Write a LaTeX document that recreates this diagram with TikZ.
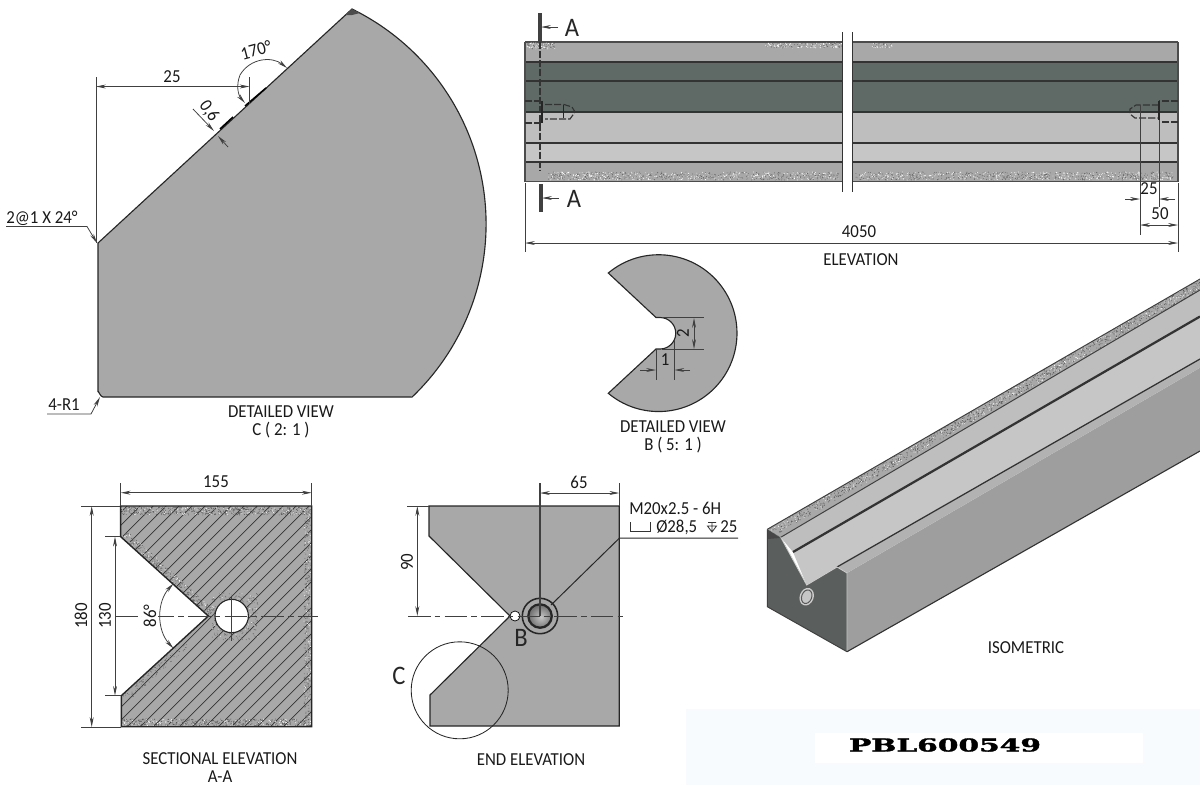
\documentclass[tikz,border=0pt]{standalone}
\usepackage{fontspec}
\setmainfont[FakeStretch=0.92]{Carlito}
\newfontfamily\plaquefont[BoldFeatures={FakeBold=1.5}]{DejaVu Serif}
\usetikzlibrary{arrows.meta, calc}

\definecolor{steel}{HTML}{A8A8A8}
\definecolor{steeldark}{HTML}{5F6A67}
\definecolor{steellight}{HTML}{BEBEBE}
\definecolor{steelpale}{HTML}{C6C6C6}
\definecolor{steelface}{HTML}{9E9E9E}
\definecolor{steelend}{HTML}{5A5F5E}
\definecolor{plaque}{HTML}{F7FBFD}

\tikzset{
  >={Stealth[length=7pt,width=2.8pt]},
  outline/.style={draw=black!85,line width=0.8pt},
  dimline/.style={draw=black!75,line width=0.55pt},
  extline/.style={draw=black!75,line width=0.55pt},
  bandline/.style={draw=black!80,line width=1.4pt},
  hidline/.style={draw=black!80,line width=0.8pt,dash pattern=on 5pt off 1.5pt},
  cenline/.style={draw=black!75,line width=0.55pt,dash pattern=on 16pt off 3pt on 4pt off 3pt},
  cutline/.style={draw=black!75,line width=2.6pt},
  dimtext/.style={font=\fontsize{13}{15}\selectfont,text=black!90,inner sep=0pt},
  viewlabel/.style={font=\fontsize{13}{12.8}\selectfont,text=black!90,inner sep=0pt,align=center},
  refletter/.style={font=\fontsize{19}{21}\selectfont,text=black!85,inner sep=0pt},
}

% #1,#2 start  #3,#4 run  #5,#6 spread  #7 count  #8 colour
\newcommand{\speckle}[8]{%
  \fill[#8] \foreach \i [evaluate=\i as \tu using rnd, evaluate=\i as \tv using rnd] in {1,...,#7}
    {({#1+#3*\tu+#5*\tv},{#2+#4*\tu+#6*\tv}) circle (0.45)};
}

\begin{document}
\begin{tikzpicture}[x=0.025cm,y=-0.025cm]
  \useasboundingbox (0,0) rectangle (1200,785);
  \pgfmathsetseed{4242}

  % detailed view C
  \fill[steel] (98,243) -- (352,9) arc[start angle=-63.9,end angle=46.3,radius=239.4]
    -- (103,397) to[out=180,in=90] (98,392) -- cycle;
  \draw[outline] (98,392) -- (98,243) -- (352,9) arc[start angle=-63.9,end angle=46.3,radius=239.4]
    -- (103,397) to[out=180,in=90] (98,392);
  \fill[black!70] (345,15) -- (352,9) -- (360,13) -- (352,15) -- cycle;
  \draw[black,line width=1.1pt] (220,129) -- (233,117) (245,106) -- (266,88);
  \draw[extline] (96,77) -- (96,243);
  \draw[extline] (249.5,77) -- (249.5,104);
  \draw[dimline,<->] (96,86.5) -- (249.5,86.5);
  \node[dimtext] (dimcc) at (172,77) {25};
  \draw[dimline,<->] (287,68) .. controls (272,56) and (250,58) .. (240,75) .. controls (236,85) and (238,95) .. (245,103);
  \node[dimtext,rotate=15] (dimcb) at (256,50) {170°};
  \draw[dimline,->] (193,109) -- (214,131);
  \draw[dimline,->] (228,147) -- (218,136);
  \node[dimtext,rotate=-55] (dimca) at (209,111) {0,6};
  \node[dimtext] (chamfer) at (42,218) {2@1 X 24°};
  \draw[dimline,->] (6,226.5) -- (87,226.5) -- (97,243);
  \node[dimtext] (radius) at (64,405) {4-R1};
  \draw[dimline,->] (47,414) -- (91,414) -- (100,397);
  \node[viewlabel] (viewc) at (281,422) {DETAILED VIEW\\C ( 2: 1 )};

  % elevation, two pieces either side of the break
  \foreach \xa/\xb in {525/842,852/1178}{
    \fill[steel] (\xa,42) rectangle (\xb,62);
    \fill[steeldark] (\xa,62) rectangle (\xb,112);
    \fill[steellight] (\xa,112) rectangle (\xb,143);
    \fill[steelpale] (\xa,143) rectangle (\xb,162);
    \fill[steel] (\xa,162) rectangle (\xb,181);
    \foreach \yb in {62,81,112,143,162}
      \draw[bandline] (\xa,\yb) -- (\xb,\yb);
    \draw[black!70,line width=0.8pt] (\xa,42) -- (\xb,42) (\xa,181.5) -- (\xb,181.5);
  }
  \draw[black!70,line width=0.8pt] (525,42) -- (525,181.5) (1178,42) -- (1178,181.5);
  \speckle{527}{43}{28}{0}{0}{6}{70}{white}
  \speckle{527}{43}{28}{0}{0}{6}{50}{black!60}
  \speckle{765}{43}{77}{0}{0}{5}{90}{white}
  \speckle{765}{43}{77}{0}{0}{5}{70}{black!60}
  \speckle{872}{43}{20}{0}{0}{5}{30}{white}
  \speckle{872}{43}{20}{0}{0}{5}{25}{black!60}
  \speckle{548}{172}{292}{0}{0}{8}{380}{white}
  \speckle{548}{172}{292}{0}{0}{8}{420}{black!60}
  \speckle{855}{172}{318}{0}{0}{8}{400}{white}
  \speckle{855}{172}{318}{0}{0}{8}{450}{black!60}
  \draw[black!80,line width=0.7pt] (842,32) -- (842,192) (852,32) -- (852,192);
  % section marks
  \draw[cutline] (540,13) -- (540,42);
  \draw[hidline,line width=1.1pt] (540,42) -- (540,170);
  \draw[cutline] (541,184) -- (541,212);
  \draw[dimline,->] (558,27) -- (541,27);
  \draw[dimline,->] (559,198) -- (542,198);
  \node[refletter] (marka) at (572,28) {A};
  \node[refletter] (markb) at (574,199) {A};
  % hidden tapped holes
  \draw[hidline] (525,101) -- (542,101) (525,123) -- (541,123);
  \draw[black!85,line width=1pt] (542,101) -- (542,123);
  \draw[hidline] (545,104.5) -- (564,104.5) -- (572,107) -- (575,112) -- (570,119) -- (545,119);
  \draw[black!85,line width=0.7pt] (563,105) -- (563,118);
  \draw[hidline] (1178,101) -- (1159,101) (1178,122) -- (1159,122);
  \draw[hidline] (1159,105) -- (1136,105) -- (1130,109) -- (1130,114) -- (1135,118) -- (1159,118);
  \draw[extline] (1140,105) -- (1140,235) (1159,105) -- (1159,207);
  \draw[black!85,line width=0.9pt] (1159,101) -- (1159,120);
  % elevation dimensions
  \draw[dimline,->] (1125,199) -- (1140,199);
  \draw[dimline,->] (1175,199) -- (1159,199);
  \node[dimtext] (dimea) at (1149,189) {25};
  \draw[dimline,<->] (1140,225) -- (1178,225);
  \node[dimtext] (dimeb) at (1160,214) {50};
  \draw[extline] (525,183) -- (525,252) (1178,183) -- (1178,252);
  \draw[dimline,<->] (525,243) -- (1178,243);
  \node[dimtext] (dimec) at (859,232) {4050};
  \node[viewlabel] (viewe) at (861,260) {ELEVATION};

  % detailed view B
  \fill[steel] (608.3,273) arc[start angle=-129.9,end angle=129.9,radius=78.4]
    -- (656,349) -- (660,349) arc[start angle=90,end angle=-90,radius=15.75] -- (656,317.5) -- cycle;
  \draw[outline] (608.3,273) arc[start angle=-129.9,end angle=129.9,radius=78.4]
    -- (656,349) -- (660,349) arc[start angle=90,end angle=-90,radius=15.75] -- (656,317.5) -- cycle;
  \draw[extline] (662,317.5) -- (703.6,317.5) (662,349) -- (703.6,349);
  \draw[dimline,<->] (694,318) -- (694,349);
  \node[dimtext,rotate=90] (dimba) at (683,333) {2};
  \draw[extline] (656,349) -- (656,379.5) (674.4,340) -- (674.4,379.5);
  \draw[dimline,->] (640,370) -- (656,370);
  \draw[dimline,->] (690,370) -- (674.4,370);
  \node[dimtext] (dimbb) at (665,360) {1};
  \node[viewlabel] (viewb) at (673,437) {DETAILED VIEW\\B ( 5: 1 )};

  % sectional elevation
  \fill[steel] (120.7,506) -- (311.7,506) -- (311.7,726.7) -- (121.3,726.7) -- (121.3,695.7) -- (208.3,616) -- (120.7,536.7) -- cycle;
  \begin{scope}
    \clip (120.7,506) -- (311.7,506) -- (311.7,726.7) -- (121.3,726.7) -- (121.3,695.7) -- (208.3,616) -- (120.7,536.7) -- cycle;
    \foreach \hx in {-110,-97,...,312}
      \draw[black!80,line width=0.5pt] (\hx,730) -- ++(240,-240);
    \speckle{121}{507}{190}{0}{0}{8}{500}{black!65}
    \speckle{121}{507}{190}{0}{0}{8}{130}{white}
    \speckle{304}{507}{0}{219}{7}{0}{350}{black!60}
    \speckle{304}{507}{0}{219}{7}{0}{90}{white}
    \speckle{122}{719}{190}{0}{0}{7}{450}{black!65}
    \speckle{122}{719}{190}{0}{0}{7}{120}{white}
    \speckle{121}{537}{88}{80}{7}{-5}{320}{black!60}
    \speckle{121}{537}{88}{80}{7}{-5}{70}{white}
    \speckle{122}{696}{60}{-55}{7}{5}{120}{black!60}
    \speckle{212}{593}{46}{0}{0}{47}{260}{black!60}
    \speckle{212}{593}{46}{0}{0}{47}{60}{white}
  \end{scope}
  \fill[white] (231.7,616) circle (16.7);
  \draw[outline] (231.7,616) circle (16.7);
  \draw[outline,line width=1pt] (120.7,536.7) -- (120.7,506) -- (311.7,506) -- (311.7,726.7) -- (121.3,726.7) -- (121.3,695.7) -- (208.3,616) -- cycle;
  \draw[cenline] (115,616) -- (318,616);
  \draw[dimline] (231.7,597) -- (231.7,641);
  \draw[extline] (120.7,483) -- (120.7,506) (311.7,483) -- (311.7,506);
  \draw[dimline,<->] (120.7,492.7) -- (311.7,492.7);
  \node[dimtext] (dimsa) at (216,482) {155};
  \draw[extline] (81,506) -- (120,506) (81,727) -- (121,727);
  \draw[dimline,<->] (91.7,506) -- (91.7,727);
  \node[dimtext,rotate=90] (dimsb) at (81,616) {180};
  \draw[extline] (105,536.7) -- (120,536.7) (105,695.7) -- (121,695.7);
  \draw[dimline,<->] (115,536.7) -- (115,695.7);
  \node[dimtext,rotate=90] (dimsc) at (105,616) {130};
  \draw[dimline,<->] (173.5,583.5) arc[start angle=-137,end angle=-223,radius=47.6];
  \node[dimtext,rotate=90,fill=white,inner sep=1pt] (dimsd) at (150,616) {86°};
  \node[viewlabel] (views) at (220,768) {SECTIONAL ELEVATION\\A-A};

  % end elevation
  \fill[steel] (429,506) -- (619.3,506) -- (619.3,726) -- (430,726) -- (430,695) -- (510,616) -- (429,536) -- cycle;
  \draw[outline] (429,536) -- (429,506) -- (619.3,506) -- (619.3,726) -- (430,726) -- (430,695) -- (510,616) -- cycle;
  \draw[fill=white,line width=0.5pt] (515,616) circle (5);
  \draw[black!85,line width=1.1pt,fill=steel] (540,616) circle (17.7);
  \shade[inner color=steelpale,outer color=black!55] (541,617) circle (11.7);
  \draw[black!85,line width=1.6pt] (540,616) circle (11.7);
  \draw[extline,line width=0.8pt] (540,483) -- (540,616);
  \draw[cenline] (408,616) -- (627,616);
  \draw[extline] (619.3,483) -- (619.3,506);
  \draw[dimline,<->] (540,493) -- (619.3,493);
  \node[dimtext] (dimea2) at (579,482) {65};
  \draw[extline] (407,506) -- (429,506);
  \draw[dimline,<->] (417.3,506) -- (417.3,616);
  \node[dimtext,rotate=90] (dimeb2) at (407,562) {90};
  \draw[black!85,line width=0.7pt] (738,538) -- (619.5,538) -- (551,605);
  \node[dimtext,anchor=west] (thread) at (629,508) {M20x2.5 - 6H};
  \node[dimtext,anchor=west] (bore) at (656,527) {Ø28,5};
  \node[dimtext,anchor=west] (depth) at (720,527) {25};
  \draw[black!80,line width=0.6pt] (630,522) -- (630,531) -- (650.5,531) -- (650.5,522);
  \draw[black!80,line width=0.6pt] (708,522.5) -- (716,522.5) (712,522.5) -- (712,532) (707.5,526) -- (716.5,526) -- (712,532) -- cycle;
  \draw[black!85,line width=0.6pt] (459.7,690.3) circle (48.5);
  \node[refletter] (markc) at (399,676) {C};
  \node[refletter] (markd) at (521,638) {B};
  \node[viewlabel] (viewn) at (531,760) {END ELEVATION};

  % isometric
  \fill[steelface] (847,573) -- (847,651.7) -- (1200,451) -- (1200,367.7) -- cycle;
  \fill[black!30] (837,567) -- (847,573) -- (1200,367.7) -- (1200,359) -- cycle;
  \fill[steelpale] (793,552) -- (806.7,585) -- (837,567) -- (1200,359) -- (1200,316.5) -- cycle;
  \fill[steellight] (780.7,537.3) -- (793,552) -- (1200,316.5) -- (1200,290) -- cycle;
  \fill[steel] (767.3,529.3) -- (780.7,537.3) -- (1200,290) -- (1200,279) -- cycle;
  \begin{scope}
    \clip (767.3,529.3) -- (780.7,537.3) -- (1200,290) -- (1200,279) -- cycle;
    \speckle{770}{527}{430}{-248}{0}{11}{1000}{black!65}
    \speckle{770}{527}{430}{-248}{0}{11}{350}{white}
  \end{scope}
  \draw[black!80,line width=1.6pt] (793,552) -- (1200,316.5);
  \draw[black!75,line width=0.7pt] (780.7,537.3) -- (1200,290);
  \draw[black!80,line width=0.9pt] (837,567) -- (1200,359);
  \fill[steelend] (767.3,529.3) -- (780.7,537.3) -- (806.7,585) -- (837,567) -- (847,573) -- (847,651.7) -- (767.3,606.7) -- cycle;
  \fill[black!72] (767.3,529.3) -- (780,538) -- (767.3,539) -- cycle;
  \draw[white!80!black,line width=0.6pt] (780.7,537.3) -- (806.7,585) -- (837,567) -- (847,573) -- (847,651.7);
  \draw[black!75,line width=0.7pt] (767.3,529.3) -- (767.3,606.7) -- (847,651.7);
  \draw[black!80,line width=0.8pt] (847,651.7) -- (1200,451);
  \draw[black!75,line width=0.7pt] (767.3,529.3) -- (1200,279);
  \draw[fill=steelpale,draw=white!80!black,line width=1.4pt,rotate around={-20:(806.7,596.7)}] (806.7,596.7) ellipse (6 and 8);
  \draw[draw=black!65,line width=0.7pt,rotate around={-20:(806.7,596.7)}] (806.7,596.7) ellipse (5 and 7);
  \node[viewlabel] (viewi) at (1026,648) {ISOMETRIC};

  % part number plate
  \fill[plaque] (686,709) rectangle (1200,785);
  \fill[white] (815,733) rectangle (1143,763);
  \node[inner sep=0pt,xscale=1.66,transform shape,font=\plaquefont\bfseries\fontsize{12.7}{14}\selectfont] (partno) at (945,745) {PBL600549};
\end{tikzpicture}
\end{document}
